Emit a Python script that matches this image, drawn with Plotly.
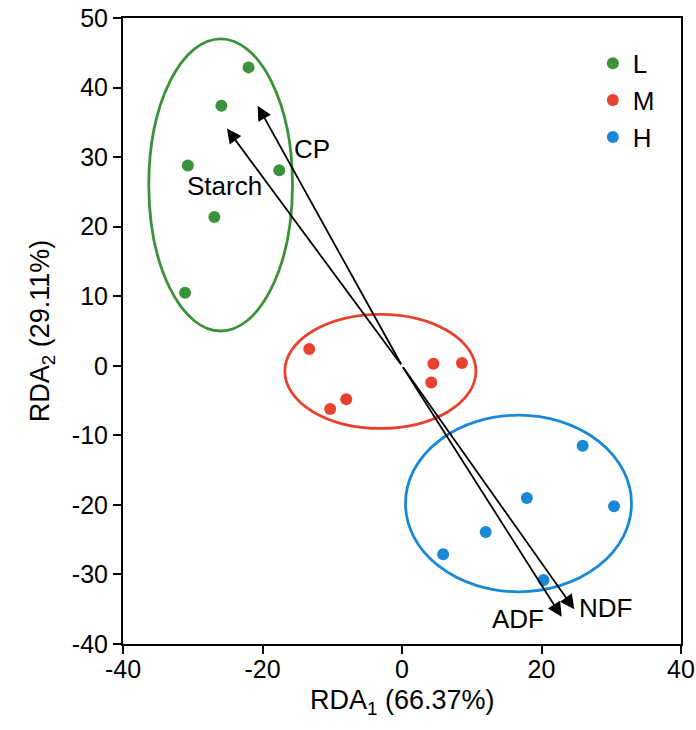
import plotly.graph_objects as go

# ---- data ----
groups = ["L", "M", "H"]
colors = {"L": "#3b923b", "M": "#e8412f", "H": "#1a88d8"}

L_x = [-22.0, -25.9, -30.7, -17.6, -26.9, -31.1]
L_y = [42.9, 37.4, 28.8, 28.1, 21.4, 10.5]
M_x = [-13.3, -10.3, -8.0, 4.5, 8.6, 4.2]
M_y = [2.4, -6.2, -4.8, 0.3, 0.4, -2.4]
H_x = [25.9, 17.9, 30.4, 12.0, 5.9, 20.3]
H_y = [-11.5, -19.0, -20.2, -23.9, -27.1, -30.8]

# confidence ellipses: center x, center y, radius x, radius y
ell_cx = [-26.0, -3.1, 16.7]
ell_cy = [26.0, -0.8, -19.8]
ell_rx = [10.3, 13.7, 16.2]
ell_ry = [21.0, 8.2, 12.7]

# environmental vectors
vec_names = ["Starch", "CP", "ADF", "NDF"]
vec_x = [-25.1, -20.7, 22.9, 24.7]
vec_y = [34.1, 37.4, -36.1, -35.0]
lab_x = [-25.4, -12.9, 16.6, 29.2]
lab_y = [25.9, 31.2, -36.4, -34.8]

x_ticks = [-40, -20, 0, 20, 40]
x_labels = ["-40", "-20", "0", "20", "40"]
y_ticks = [-40, -30, -20, -10, 0, 10, 20, 30, 40, 50]
y_labels = ["-40", "-30", "-20", "-10", "0", "10", "20", "30", "40", "50"]

x_title = "RDA<sub>1</sub> (66.37%)"
y_title = "RDA<sub>2</sub> (29.11%)"

FONT = "Liberation Sans, Arial, sans-serif"

fig = go.Figure()
for g, xs, ys in zip(groups, [L_x, M_x, H_x], [L_y, M_y, H_y]):
    fig.add_trace(go.Scatter(x=xs, y=ys, mode="markers", name=g,
                             marker=dict(size=12, color=colors[g])))

shapes = []
for g, cx, cy, rx, ry in zip(groups, ell_cx, ell_cy, ell_rx, ell_ry):
    shapes.append(dict(type="circle", xref="x", yref="y",
                       x0=cx - rx, x1=cx + rx, y0=cy - ry, y1=cy + ry,
                       line=dict(color=colors[g], width=2.8), layer="below"))

annotations = []
for name, vx, vy, lx, ly in zip(vec_names, vec_x, vec_y, lab_x, lab_y):
    annotations.append(dict(x=vx, y=vy, ax=0, ay=0, xref="x", yref="y",
                            axref="x", ayref="y", text="", showarrow=True,
                            arrowhead=2, arrowsize=1.6, arrowwidth=1.8,
                            arrowcolor="black", standoff=0, startstandoff=0))
    annotations.append(dict(x=lx, y=ly, xref="x", yref="y", text=name,
                            showarrow=False,
                            font=dict(family=FONT, size=26, color="black")))

annotations.append(dict(x=0.5, y=-0.093, xref="paper", yref="paper",
                        text=x_title, showarrow=False, xanchor="center",
                        yanchor="middle",
                        font=dict(family=FONT, size=27, color="black")))

fig.update_layout(
    width=696, height=730,
    margin=dict(l=123, r=15, t=18, b=86, autoexpand=False),
    paper_bgcolor="white", plot_bgcolor="white",
    font=dict(family=FONT, color="black"),
    shapes=shapes, annotations=annotations,
    showlegend=True,
    legend=dict(x=0.842, y=0.965, xanchor="left", yanchor="top",
                font=dict(family=FONT, size=26, color="black"),
                bgcolor="rgba(0,0,0,0)", itemsizing="trace"),
    xaxis=dict(range=[-40, 40], tickvals=x_ticks, ticktext=x_labels,
               ticks="outside", ticklen=8, ticklabelstandoff=-6,
               tickwidth=2, tickcolor="black", showline=True, linecolor="black",
               linewidth=2, mirror=True, showgrid=False, zeroline=False,
               automargin=False,
               tickfont=dict(family=FONT, size=25, color="black")),
    yaxis=dict(range=[-40, 50], tickvals=y_ticks, ticktext=y_labels,
               ticks="outside", ticklen=8,
               tickwidth=2, tickcolor="black", showline=True, linecolor="black",
               linewidth=2, mirror=True, showgrid=False, zeroline=False,
               automargin=False,
               tickfont=dict(family=FONT, size=25, color="black"),
               title=dict(text=y_title, standoff=14,
                          font=dict(family=FONT, size=27, color="black"))),
)

fig.write_html("out.html")
